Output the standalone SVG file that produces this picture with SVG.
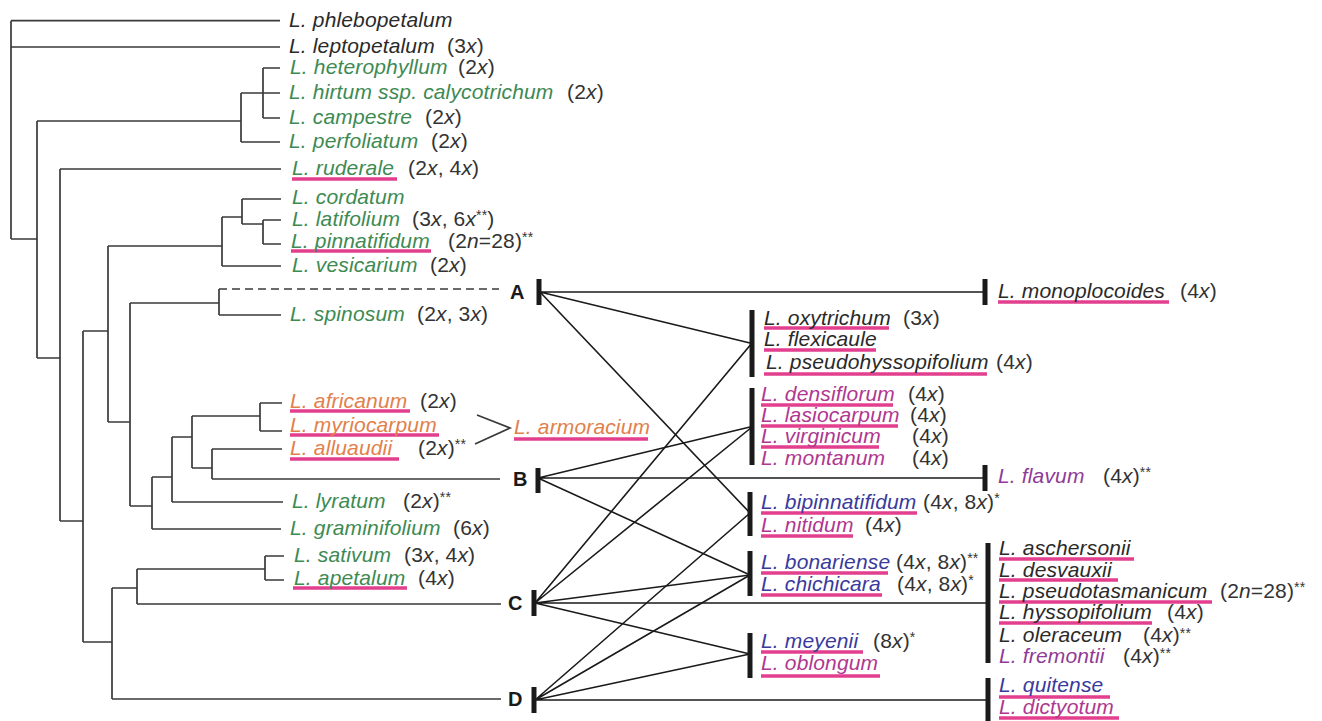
<svg xmlns="http://www.w3.org/2000/svg" width="1322" height="721" viewBox="0 0 1322 721">
<style>
.t{font-family:"Liberation Sans",Arial,sans-serif;font-size:21px;letter-spacing:0.15px}
.s{font-style:italic}
.i{font-style:italic}
.sup{font-size:14px}
.g{fill:#3d8a52}
.k{fill:#2a2a2a}
.o{fill:#e2804a}
.m{fill:#b0378f}
.p{fill:#8f3b97}
.b{fill:#3a3a9c}
.pl{fill:#333333}
.lt{font-family:"Liberation Sans",Arial,sans-serif;font-size:20px;font-weight:bold;fill:#1a1a1a}
.u{stroke:#e23f8e;stroke-width:3.5;fill:none}
.br{stroke:#3a3a3a;stroke-width:1.7;fill:none}
.ln{stroke:#1a1a1a;stroke-width:1.6;fill:none}
.bar{stroke:#1a1a1a;stroke-width:5;fill:none}
</style>
<rect width="1322" height="721" fill="#ffffff"/>
<g id="tree" class="br">
<path d="M11,20.7V239M11,20.7H280M11,47H280M11,239H37"/>
<path d="M37,121V358M37,121H241M37,358H60"/>
<path d="M241,93V142M241,142H280M241,93H263"/>
<path d="M263,68V118M263,68H280M263,93H280M263,118H280"/>
<path d="M60,169V521M60,169H281M60,521H83"/>
<path d="M83,331V642M83,331H108M83,642H112"/>
<path d="M108,246V422M108,246H222M108,422H130"/>
<path d="M222,217V266M222,266H281M222,217H242"/>
<path d="M242,199V224M242,199H281M242,224H263"/>
<path d="M263,220V244M263,220H281M263,244H281"/>
<path d="M130,303V506M130,303H219M130,506H152"/>
<path d="M219,289V315M219,315H281"/>
<path d="M219,289H499" stroke-dasharray="8 5"/>
<path d="M152,477V529M152,477H172M152,529H281"/>
<path d="M172,437V502M172,437H192M172,502H283"/>
<path d="M192,416V468M192,416H260M192,468H212"/>
<path d="M260,403V431M260,403H282M260,431H282"/>
<path d="M212,449V479M212,449H282M212,479H500"/>
<path d="M112,588V699M112,588H137M112,699H501"/>
<path d="M137,569V604M137,569H265M137,604H501"/>
<path d="M265,556V580M265,556H284M265,580H284"/>
<path d="M477,415L510,428L475,444"/>
</g>
<g id="connectors" class="ln">
<path d="M540,292H985M540,292L750,343M540,292L750,513"/>
<path d="M538,478H985M538,478L750,427M538,478L750,575"/>
<path d="M535,603H988M535,603L752,343M535,603L752,427M535,603L750,575M535,603L750,654"/>
<path d="M535,700H988M535,700L750,513M535,700L750,575M535,700L750,654"/>
</g>
<g id="bars" class="bar">
<path d="M539,279V305M538,468V493M534,590V616M534,687V713"/>
<path d="M985,279V305M985,465V491M988,543V663M988,678V721"/>
<path d="M752,310V377M752,388V465M750,492V536M750,551V596M750,633V678"/>
</g>
<g id="node-A"><text class="lt" x="510" y="299">A</text></g>
<g id="node-B"><text class="lt" x="513" y="486">B</text></g>
<g id="node-C"><text class="lt" x="508" y="610">C</text></g>
<g id="node-D"><text class="lt" x="508" y="706">D</text></g>

<g id="phlebopetalum"><text class="t s k" x="289" y="27">L. phlebopetalum</text></g>
<g id="leptopetalum"><text class="t s k" x="289" y="53">L. leptopetalum</text><text class="t pl" x="447" y="53">(3<tspan class="i">x</tspan>)</text></g>
<g id="heterophyllum"><text class="t s g" x="290" y="74">L. heterophyllum</text><text class="t pl" x="458" y="74">(2<tspan class="i">x</tspan>)</text></g>
<g id="hirtum"><text class="t s g" x="289" y="99">L. hirtum ssp. calycotrichum</text><text class="t pl" x="567" y="99">(2<tspan class="i">x</tspan>)</text></g>
<g id="campestre"><text class="t s g" x="289" y="124">L. campestre</text><text class="t pl" x="425" y="124">(2<tspan class="i">x</tspan>)</text></g>
<g id="perfoliatum"><text class="t s g" x="289" y="148">L. perfoliatum</text><text class="t pl" x="431" y="148">(2<tspan class="i">x</tspan>)</text></g>
<g id="ruderale"><path class="u" d="M292,179H397"/><text class="t s g" x="292" y="175">L. ruderale</text><text class="t pl" x="408" y="175">(2<tspan class="i">x</tspan>, 4<tspan class="i">x</tspan>)</text></g>
<g id="cordatum"><text class="t s g" x="292" y="204">L. cordatum</text></g>
<g id="latifolium"><text class="t s g" x="292" y="226">L. latifolium</text><text class="t pl" x="412" y="226">(3<tspan class="i">x</tspan>, 6<tspan class="i">x</tspan><tspan class="sup" dy="-6">**</tspan><tspan dy="6">)</tspan></text></g>
<g id="pinnatifidum"><path class="u" d="M291,251H431"/><text class="t s g" x="291" y="248">L. pinnatifidum</text><text class="t pl" x="448" y="248">(2<tspan class="i">n</tspan>=28)<tspan class="sup" dy="-6">**</tspan></text></g>
<g id="vesicarium"><text class="t s g" x="292" y="272">L. vesicarium</text><text class="t pl" x="430" y="272">(2<tspan class="i">x</tspan>)</text></g>
<g id="spinosum"><text class="t s g" x="290" y="321">L. spinosum</text><text class="t pl" x="417" y="321">(2<tspan class="i">x</tspan>, 3<tspan class="i">x</tspan>)</text></g>
<g id="africanum"><path class="u" d="M290,411H410"/><text class="t s o" x="290" y="408">L. africanum</text><text class="t pl" x="420" y="408">(2<tspan class="i">x</tspan>)</text></g>
<g id="myriocarpum"><path class="u" d="M290,435H439"/><text class="t s o" x="290" y="432">L. myriocarpum</text></g>
<g id="alluaudii"><path class="u" d="M290,459H399"/><text class="t s o" x="290" y="455">L. alluaudii</text><text class="t pl" x="418" y="455">(2<tspan class="i">x</tspan>)<tspan class="sup" dy="-6">**</tspan></text></g>
<g id="armoracium"><path class="u" d="M514,439H648"/><text class="t s o" x="514" y="434">L. armoracium</text></g>
<g id="lyratum"><text class="t s g" x="292" y="508">L. lyratum</text><text class="t pl" x="403" y="508">(2<tspan class="i">x</tspan>)<tspan class="sup" dy="-6">**</tspan></text></g>
<g id="graminifolium"><text class="t s g" x="290" y="535">L. graminifolium</text><text class="t pl" x="453" y="535">(6<tspan class="i">x</tspan>)</text></g>
<g id="sativum"><text class="t s g" x="294" y="562">L. sativum</text><text class="t pl" x="404" y="562">(3<tspan class="i">x</tspan>, 4<tspan class="i">x</tspan>)</text></g>
<g id="apetalum"><path class="u" d="M293,588H407"/><text class="t s g" x="294" y="585">L. apetalum</text><text class="t pl" x="418" y="585">(4<tspan class="i">x</tspan>)</text></g>

<g id="group1">
<path class="u" d="M764,328H889M764,350H876M764,374H987"/>
<text class="t s k" x="764" y="325">L. oxytrichum</text><text class="t pl" x="903" y="325">(3<tspan class="i">x</tspan>)</text>
<text class="t s k" x="764" y="346">L. flexicaule</text>
<text class="t s k" x="766" y="369">L. pseudohyssopifolium</text><text class="t pl" x="996" y="369">(4<tspan class="i">x</tspan>)</text>
</g>
<g id="group2">
<path class="u" d="M761,405H893M761,426H898M761,447H879"/>
<text class="t s m" x="761" y="401">L. densiflorum</text><text class="t pl" x="908" y="401">(4<tspan class="i">x</tspan>)</text>
<text class="t s m" x="761" y="422">L. lasiocarpum</text><text class="t pl" x="910" y="422">(4<tspan class="i">x</tspan>)</text>
<text class="t s m" x="761" y="443">L. virginicum</text><text class="t pl" x="912" y="443">(4<tspan class="i">x</tspan>)</text>
<text class="t s m" x="761" y="465">L. montanum</text><text class="t pl" x="912" y="465">(4<tspan class="i">x</tspan>)</text>
</g>
<g id="group3">
<path class="u" d="M761,513H917M761,536H853"/>
<text class="t s b" x="761" y="509">L. bipinnatifidum</text><text class="t pl" x="923" y="509">(4<tspan class="i">x</tspan>, 8<tspan class="i">x</tspan>)<tspan class="sup" dy="-6">*</tspan></text>
<text class="t s m" x="761" y="532">L. nitidum</text><text class="t pl" x="865" y="532">(4<tspan class="i">x</tspan>)</text>
</g>
<g id="group4">
<path class="u" d="M761,573H888M761,595H882"/>
<text class="t s b" x="761" y="569">L. bonariense</text><text class="t pl" x="896" y="569">(4<tspan class="i">x</tspan>, 8<tspan class="i">x</tspan>)<tspan class="sup" dy="-6">**</tspan></text>
<text class="t s b" x="761" y="591">L. chichicara</text><text class="t pl" x="897" y="591">(4<tspan class="i">x</tspan>, 8<tspan class="i">x</tspan>)<tspan class="sup" dy="-6">*</tspan></text>
</g>
<g id="group5">
<path class="u" d="M761,652H863M761,676H880"/>
<text class="t s b" x="761" y="648">L. meyenii</text><text class="t pl" x="873" y="648">(8<tspan class="i">x</tspan>)<tspan class="sup" dy="-6">*</tspan></text>
<text class="t s m" x="761" y="670">L. oblongum</text>
</g>
<g id="monoplocoides">
<path class="u" d="M998,302H1169"/>
<text class="t s k" x="998" y="298">L. monoplocoides</text><text class="t pl" x="1180" y="298">(4<tspan class="i">x</tspan>)</text>
</g>
<g id="flavum">
<text class="t s p" x="998" y="483">L. flavum</text><text class="t pl" x="1103" y="483">(4<tspan class="i">x</tspan>)<tspan class="sup" dy="-6">**</tspan></text>
</g>
<g id="group6">
<path class="u" d="M999,559H1134M999,580H1118M999,602H1212M999,623H1152"/>
<text class="t s k" x="999" y="555">L. aschersonii</text>
<text class="t s k" x="999" y="577">L. desvauxii</text>
<text class="t s k" x="999" y="598">L. pseudotasmanicum</text><text class="t pl" x="1220" y="598">(2<tspan class="i">n</tspan>=28)<tspan class="sup" dy="-6">**</tspan></text>
<text class="t s k" x="999" y="619">L. hyssopifolium</text><text class="t pl" x="1167" y="619">(4<tspan class="i">x</tspan>)</text>
<text class="t s k" x="999" y="642">L. oleraceum</text><text class="t pl" x="1143" y="642">(4<tspan class="i">x</tspan>)<tspan class="sup" dy="-4">**</tspan></text>
<text class="t s p" x="999" y="663">L. fremontii</text><text class="t pl" x="1123" y="663">(4<tspan class="i">x</tspan>)<tspan class="sup" dy="-5">**</tspan></text>
</g>
<g id="group7">
<path class="u" d="M999,697H1110M999,718H1119"/>
<text class="t s b" x="999" y="692">L. quitense</text>
<text class="t s m" x="999" y="714">L. dictyotum</text>
</g>
</svg>
